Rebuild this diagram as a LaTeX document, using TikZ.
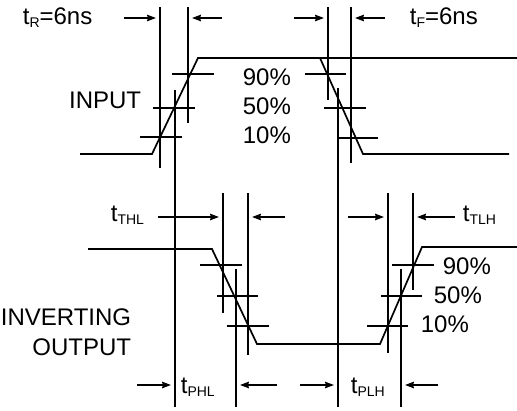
\documentclass[tikz,border=0pt]{standalone}
\usepackage{fontspec}
\setmainfont{Liberation Sans}
\usetikzlibrary{arrows.meta}
\newcommand\tsub[2]{#1\raisebox{-0.25ex}{\fontsize{14}{14}\selectfont #2}}

\begin{document}
\begin{tikzpicture}[x=1pt,y=-1pt,line width=1.7pt,>={Stealth[length=9pt,width=6.5pt,inset=1pt]},
  label node/.style={font=\fontsize{24}{28}\selectfont,inner sep=0pt},
  dim arrow/.style={->,shorten >=4pt}]
  \useasboundingbox (0,0) rectangle (517,410);

  % input waveform
  \draw (80,154) -- (152,154) -- (198,58) -- (517,58);
  \draw (320,58) -- (363,154) -- (509,154);

  % input rising edge: levels and guides
  \draw (172,74) -- (214,74);
  \draw (153,108) -- (195,108);
  \draw (140,137) -- (182,137);
  \draw (160,7) -- (160,168);
  \draw (188,7) -- (188,123);
  \draw (175,90) -- (175,407);

  % input falling edge: levels and guides
  \draw (305,74) -- (346,74);
  \draw (324,108) -- (366,108);
  \draw (337,138) -- (378,138);
  \draw (328,7) -- (328,100);
  \draw (351,7) -- (351,163);
  \draw (338,88) -- (338,407);

  % output waveform
  \draw (88,249) -- (212,249) -- (257,344) -- (380,344) -- (422,247) -- (517,247);

  % output falling edge
  \draw (200,265) -- (242,265);
  \draw (217,296) -- (258,296);
  \draw (227,326) -- (269,326);
  \draw (223,193) -- (223,313);
  \draw (248,193) -- (248,355);
  \draw (236,269) -- (236,407);

  % output rising edge
  \draw (392,265) -- (434,265);
  \draw (381,296) -- (422,296);
  \draw (367,326) -- (408,326);
  \draw (388,193) -- (388,353);
  \draw (413,193) -- (413,290);
  \draw (401,269) -- (401,407);

  % dimension arrows
  \draw[dim arrow] (124,18) -- (160,18);
  \draw[dim arrow] (222,18) -- (188,18);
  \draw[dim arrow] (294,18) -- (328,18);
  \draw[dim arrow] (385,18) -- (351,18);
  \draw[dim arrow] (158,217) -- (223,217);
  \draw[dim arrow] (285,217) -- (248,217);
  \draw[dim arrow] (348,217) -- (388,217);
  \draw[dim arrow] (455,217) -- (413,217);
  \draw[dim arrow] (137,385) -- (175,385);
  \draw[dim arrow] (277,385) -- (236,385);
  \draw[dim arrow] (300,385) -- (338,385);
  \draw[dim arrow] (438,385) -- (401,385);

  % labels
  \node[label node,anchor=base west] (tr) at (22,24) {\tsub{t}{R}=6ns};
  \node[label node,anchor=base west] (tf) at (409,24) {\tsub{t}{F}=6ns};
  \node[label node,anchor=base east] (in) at (142,108) {INPUT};
  \node[label node,anchor=base west] (in90) at (242,85) {90\%};
  \node[label node,anchor=base west] (in50) at (242,114) {50\%};
  \node[label node,anchor=base west] (in10) at (242,143) {10\%};
  \node[label node,anchor=base west] (tthl) at (110,221) {\tsub{t}{THL}};
  \node[label node,anchor=base west] (ttlh) at (462,221) {\tsub{t}{TLH}};
  \node[label node,anchor=base west] (tphl) at (180,393) {\tsub{t}{PHL}};
  \node[label node,anchor=base west] (tplh) at (350,393) {\tsub{t}{PLH}};
  \node[label node,anchor=base west] (out90) at (442,274) {90\%};
  \node[label node,anchor=base west] (out50) at (433,303) {50\%};
  \node[label node,anchor=base west] (out10) at (420,332) {10\%};
  \node[label node,anchor=base east] (inv) at (132,325) {INVERTING};
  \node[label node,anchor=base east] (out) at (132,355) {OUTPUT};
\end{tikzpicture}
\end{document}
